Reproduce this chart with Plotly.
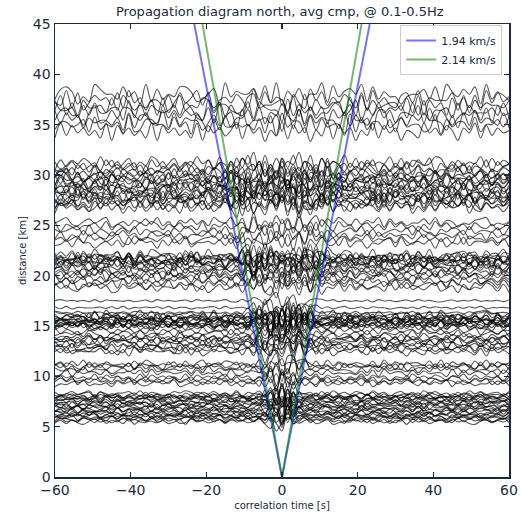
import plotly.graph_objects as go

# ---------------- data ----------------
time_s = [-60 + 1.5 * i for i in range(81)]

# trace distances [km], grouped as in the picture
dist_g1 = [5.5, 5.6, 5.75, 5.9, 6.0, 6.1, 6.2, 6.35, 6.5, 6.6, 6.7, 6.85, 7.0, 7.1, 7.2, 7.35,
           7.5, 7.6, 7.75, 7.85, 7.9, 8.0, 8.15, 8.3]
dist_g2 = [9.3, 9.5, 9.7, 9.9, 10.3, 10.6, 10.9, 11.0, 11.2]
dist_g3 = [12.4, 12.6, 12.8, 13.0, 13.2, 13.4, 13.6, 13.7, 13.9, 14.2, 14.5]
dist_g4 = [14.9, 15.0, 15.1, 15.15, 15.2, 15.3, 15.4, 15.5, 15.55, 15.6, 15.7, 15.8, 15.9, 16.1]
dist_g5 = [16.3, 16.8, 17.5]
dist_g6 = [18.8, 19.1, 19.4, 19.7, 20.0, 20.2, 20.4, 20.6, 20.8, 21.0, 21.1, 21.3, 21.4, 21.5,
           21.6, 21.7, 21.8, 22.0]
dist_g7 = [23.2, 23.6, 24.0, 24.4, 24.9, 25.3]
dist_g8 = [26.8, 27.0, 27.2, 27.4, 27.6, 27.7, 27.8, 28.0, 28.2, 28.4, 28.6, 28.8, 29.0, 29.2,
           29.4, 29.6, 29.8, 30.0, 30.3, 30.6, 30.9, 31.2]
dist_g9 = [34.3, 34.9, 35.3, 35.8, 36.3, 36.8, 37.3, 37.9]

groups = [dist_g1, dist_g2, dist_g3, dist_g4, dist_g5, dist_g6, dist_g7, dist_g8, dist_g9]
# amplitude [km] away from the arrivals and inside the arrival cone, per group
amp_out = [0.35, 0.42, 0.48, 0.48, 0.15, 0.62, 0.62, 0.78, 1.10]
amp_in = [1.50, 1.40, 1.40, 1.50, 1.10, 1.30, 1.20, 1.35, 1.25]

# waveform sample levels (0..9, 4.5 = zero), read loosely as band-limited noise
wave_pool = [
    "46273158463628175536247184635728463582174653682471356748263537184625738462157364835",
    "53682461735486271538463275846127458362554738261473582647351846273615482736455283746",
    "35748261356472853164762835547281364578293641573826453174862547382165473829564738251",
    "62473581642557382641375862647352816473562835461728463752846157362847351628473562743",
    "47382651436782435174683257468135264738251647362854736182537462815736485273648173524",
    "52637481526374859163745263817463528473615284736251847362574183652748361527483652746",
    "73648251364752836147253861472538461725364817263548271635482716354827165348721635482",
    "28463751648273645192837463528174635281746352817463582746153827461538274615382746154",
    "66372845523917466382557481936645728354619237755384619627384545372819466283745519283",
    "39485726455361827744928365514736829355647182937465528374619924637585541728394653827",
    "58274693315847266592837414657382956243785516923748853621947475638291144738265953728",
    "44638271955627384466192837545738621947754382865519374624478359163846572839155628374",
    "61839274655472839161744528396354718269354874615238945567281937446528193745663829174",
    "27849365558362719487556439281475638294615537284693815647529384651742958364752819463",
    "75928364414557382964758193624553786142975538461927354886235719465573829164735592846",
    "53647291836647582914557382846193745528364917553846272948365519284736561927384459283",
    "82736455193847266481935574628391654473825619474836552918374654729183746552738194658",
    "45566372819445237896612438755362819476549382165577382914465273891645537284916435728",
    "36728459156374826394557162839746518372945563718294645537281964872539146558273914657",
    "69347285514637294856173849255647382916545738291647583926615478293564718254936657382",
]
pool_shift = [0, 7, 13, 3, 21, 9, 17, 5, 29, 11, 2, 25, 14, 33, 6, 19, 27, 1, 37, 8, 15, 23, 31]

velocities = [1.94, 2.14]
vel_labels = ["1.94 km/s", "2.14 km/s"]
vel_colors = ["rgba(0,0,255,0.55)", "rgba(0,128,0,0.55)"]
dist_max = 45

# ---------------- figure ----------------
fig = go.Figure()
n = len(time_s)
k = 0
for gi, dists in enumerate(groups):
    for d in dists:
        s = wave_pool[k % len(wave_pool)]
        sh = pool_shift[k % len(pool_shift)]
        s = (s[sh:] + s[:sh]) * 2
        vals = [(int(c) - 4.5) / 4.5 for c in s[:n]]
        ys = []
        edge = d / velocities[0] + 2.0
        for tt, v in zip(time_s, vals):
            w = min(1.0, max(0.0, (edge - abs(tt)) / 4.0))
            g = amp_out[gi] + (amp_in[gi] - amp_out[gi]) * w
            ys.append(d + g * v)
        fig.add_trace(go.Scatter(x=time_s, y=ys, mode="lines",
                                 line=dict(color="rgba(0,0,0,0.66)", width=1.1, shape="spline", smoothing=1),
                                 showlegend=False, hoverinfo="skip"))
        k += 1

for v, lab, col in zip(velocities, vel_labels, vel_colors):
    tm = dist_max / v
    fig.add_trace(go.Scatter(x=[-tm, 0, tm], y=[dist_max, 0, dist_max], mode="lines",
                             line=dict(color=col, width=2), name=lab, hoverinfo="skip"))

axis_col = "#1b2a3b"
common = dict(showgrid=False, zeroline=False, showline=True, linecolor=axis_col, linewidth=1.5,
              mirror="ticks", ticks="inside", ticklen=5, tickwidth=1.2, tickcolor=axis_col,
              automargin=False,
              tickfont=dict(family="DejaVu Sans", size=14, color=axis_col))
fig.update_xaxes(range=[-60, 60], dtick=20, tick0=-60,
                 title=dict(text="correlation time [s]", font=dict(family="DejaVu Sans", size=10, color=axis_col), standoff=4),
                 **common)
fig.update_yaxes(range=[0, 45], dtick=5, tick0=0,
                 title=dict(text="distance [km]", font=dict(family="DejaVu Sans", size=10, color=axis_col), standoff=4),
                 **common)

fig.update_layout(
    width=522, height=519,
    margin=dict(l=55, r=13, t=24, b=42, autoexpand=False),
    paper_bgcolor="white", plot_bgcolor="white",
    title=dict(text="Propagation diagram north, avg cmp, @ 0.1-0.5Hz", xref="container", x=0.536,
               xanchor="center", y=0.977, yanchor="middle",
               font=dict(family="DejaVu Sans", size=13, color=axis_col)),
    legend=dict(x=0.985, y=0.998, xanchor="right", yanchor="top", bgcolor="rgba(255,255,255,0.85)",
                bordercolor="#cccccc", borderwidth=1, font=dict(family="DejaVu Sans", size=11, color=axis_col)),
    showlegend=True,
)

fig.write_html("out.html", config={"displayModeBar": False, "staticPlot": True},
               post_script="document.body.style.margin='0';document.body.style.overflow='hidden';")
